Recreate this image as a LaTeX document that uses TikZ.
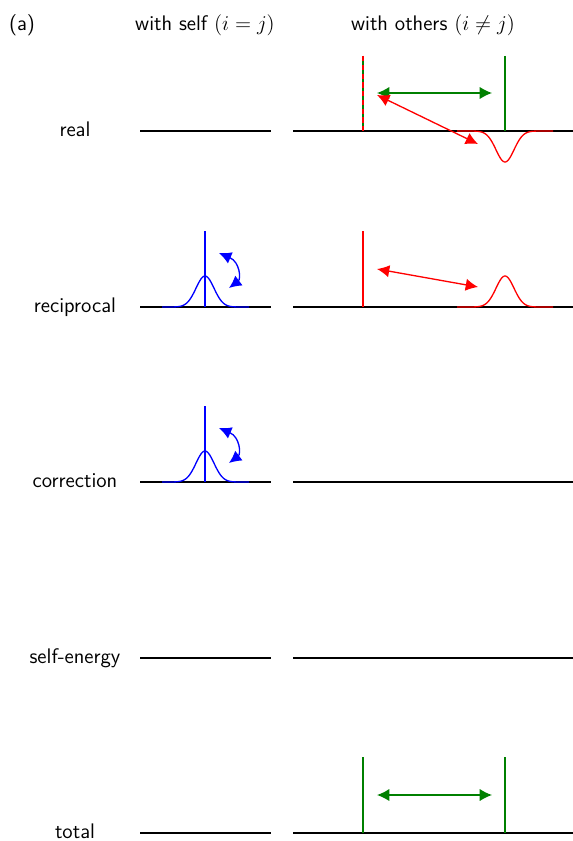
\documentclass[tikz,border=0pt]{standalone}
\usetikzlibrary{arrows.meta}
\definecolor{vgreen}{rgb}{0,0.5,0}
\tikzset{
    lbl/.style={font=\sffamily\large,anchor=mid},
    axe/.style={line width=0.8pt},
    wire/.style={line width=0.75pt},
    dbl/.style={wire,{Latex[length=7pt,width=7pt]}-{Latex[length=7pt,width=7pt]}}
}
\begin{document}
\begin{tikzpicture}[x=0.02cm,y=-0.02cm]
        \useasboundingbox (0,0) rectangle (573,841);
        % titoli
        \node[lbl] (lab) at (22,27) {(a)};
        \node[lbl] (self) at (205,27) {with self $(i=j)$};
        \node[lbl] (oth) at (433,27) {with others $(i\neq j)$};
        % righe
        \foreach \n/\t/\y in {r/real/131,k/reciprocal/307,c/correction/482,s/self-energy/658,t/total/833}{
            \node[lbl] (\n) at (75,\y+2) {\t};
            \draw[axe] (140,\y) -- (271,\y);
            \draw[axe] (293,\y) -- (573,\y);
        }
        % real
        \draw[wire,vgreen] (363,56) -- (363,131);
        \draw[wire,red,dash pattern=on 3pt off 2pt] (363,56) -- (363,131);
        \draw[wire,vgreen] (505,56) -- (505,131);
        \draw[dbl,vgreen] (377,93) -- (492,93);
        \draw[dbl,red] (377,95) -- (478,144);
        \draw[wire,red] plot[domain=-48:48,samples=80,smooth] ({505+\x},{131+31*exp(-(\x/9)^2/2)});
        % reciprocal
        \foreach \y in {307,482}{
            \draw[wire,blue] (205,\y-76) -- (205,\y);
            \draw[wire,blue] plot[domain=-43:44,samples=70,smooth] ({205+\x},{\y-31*exp(-(\x/9)^2/2)});
            \draw[dbl,blue] (219,\y-54) .. controls (240,\y-45) and (241,\y-28) .. (229,\y-19);
        }
        \draw[wire,red] (363,231) -- (363,307);
        \draw[dbl,red] (377,269) -- (478,287);
        \draw[wire,red] plot[domain=-48:48,samples=80,smooth] ({505+\x},{307-31*exp(-(\x/9)^2/2)});
        % total
        \draw[wire,vgreen] (363,757) -- (363,833);
        \draw[wire,vgreen] (505,757) -- (505,833);
        \draw[dbl,vgreen] (377,795) -- (492,795);
\end{tikzpicture}
\end{document}
